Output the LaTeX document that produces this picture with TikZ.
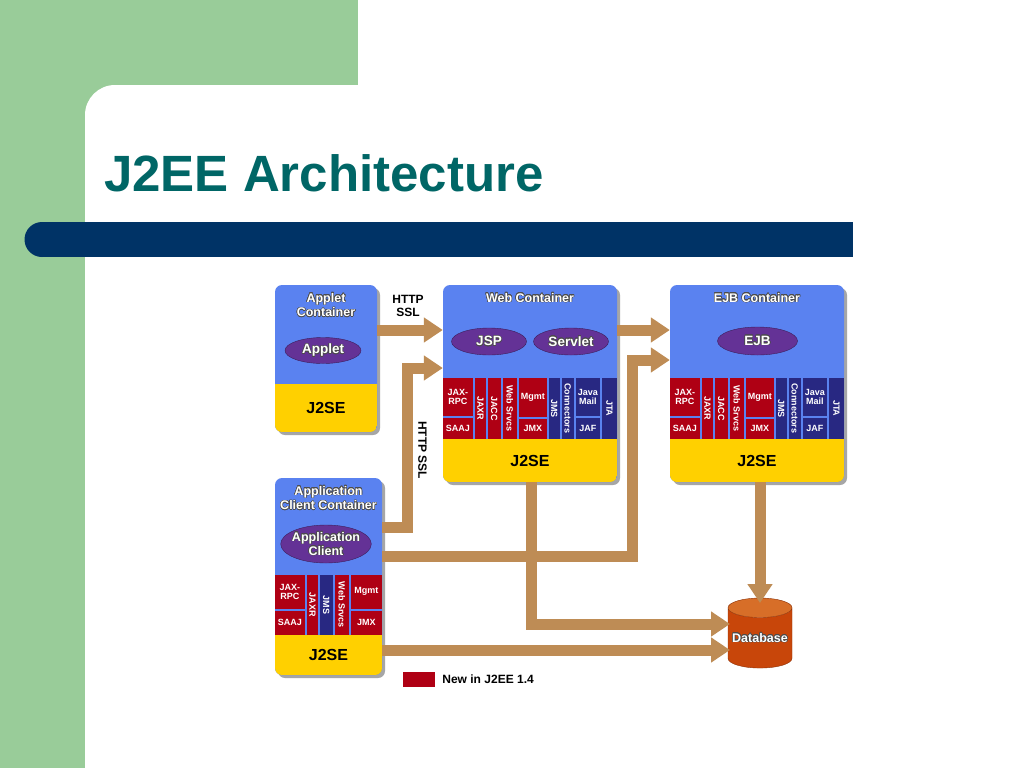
\documentclass[tikz,border=0pt]{standalone}
\usepackage{fontspec}
\setmainfont{Liberation Sans}
\usepackage{contour}
\contourlength{0.5pt}
\usetikzlibrary{positioning,shapes.geometric,arrows.meta,shadows}

\definecolor{slidegreen}{RGB}{153,204,153}
\definecolor{barblue}{RGB}{0,51,102}
\definecolor{titleteal}{RGB}{0,102,102}
\definecolor{contblue}{RGB}{90,130,240}
\definecolor{j2seyellow}{RGB}{255,208,0}
\definecolor{beanpurple}{RGB}{100,50,150}
\definecolor{newred}{RGB}{175,0,20}
\definecolor{apinavy}{RGB}{40,40,130}
\definecolor{pipetan}{RGB}{190,140,85}
\definecolor{dbred}{RGB}{200,70,10}
\definecolor{dborange}{RGB}{215,110,40}

\newcommand{\wt}[1]{\contour{black!70}{#1}}

\begin{document}
\begin{tikzpicture}[%
    x=1pt, y=-1pt,
    >={Triangle[width=24pt,length=19pt]},
    pipe/.style={draw=pipetan, line width=11pt, ->},
    box/.style={rectangle, rounded corners=7pt, fill=contblue, inner sep=0pt,
      drop shadow={shadow xshift=3pt, shadow yshift=-3pt, fill=black!35, opacity=1},
      path picture={\fill[j2seyellow, sharp corners]
        (path picture bounding box.south west)
        rectangle ([yshift=#1]path picture bounding box.south east);}},
    boxtitle/.style={text=white, align=center, inner sep=0pt,
      font=\fontsize{12.5}{14.5}\selectfont\bfseries},
    bean/.style={ellipse, fill=beanpurple, draw=beanpurple!60!black, inner sep=0pt,
      text=white, align=center, font=\fontsize{13.5}{15}\selectfont\bfseries},
    j2se/.style={font=\fontsize{16}{16}\selectfont\bfseries, inner sep=0pt},
    api/.style={rectangle, inner sep=0pt, text=white, align=center,
      font=\fontsize{9}{9.5}\selectfont\bfseries},
    proto/.style={align=center, inner sep=0pt,
      font=\fontsize{12}{12.5}\selectfont\bfseries},
  ]
    \useasboundingbox (0,0) rectangle (1024,768);
    \clip (0,0) rectangle (1024,768);

    % slide background
    \fill[slidegreen] (0,0) rectangle (358,768);
    \fill[white, rounded corners=30pt] (85,85) rectangle (1080,820);
    \fill[barblue] (42,222) rectangle (853,257);
    \fill[barblue] (42,239.5) circle[radius=17.5pt];
    \node[anchor=base west, text=titleteal, inner sep=0pt,
      font=\fontsize{51}{51}\selectfont\bfseries] (title) at (104,191) {J2EE Architecture};

    % containers
    \node[box=48pt, minimum width=102pt, minimum height=147pt] (applet) at (326,358.5) {};
    \node[box=43pt, minimum width=174pt, minimum height=197pt] (web) at (530,383.5) {};
    \node[box=43pt, minimum width=174pt, minimum height=197pt] (ejb) at (757,383.5) {};
    \node[box=40pt, minimum width=107pt, minimum height=197pt] (appclient) at (328.5,576.5) {};

    \node[boxtitle, below=8pt of applet.north] (applettitle) {\wt{Applet}\\\wt{Container}};
    \node[boxtitle, below=8pt of web.north] (webtitle) {\wt{Web Container}};
    \node[boxtitle, below=8pt of ejb.north] (ejbtitle) {\wt{EJB Container}};
    \node[boxtitle, below=8pt of appclient.north] (appclienttitle) {\wt{Application}\\\wt{Client Container}};

    \node[bean, minimum width=76pt, minimum height=26pt] (appletbean) at (323,350.5) {\wt{Applet}};
    \node[bean, minimum width=75pt, minimum height=27pt] (jsp) at (489,341.5) {\wt{JSP}};
    \node[bean, minimum width=75pt, minimum height=27pt] (servlet) at (571,341.5) {\wt{Servlet}};
    \node[bean, minimum width=80pt, minimum height=28pt] (ejbbean) at (757.5,341) {\wt{EJB}};
    \node[bean, inner xsep=-2pt, inner ysep=-1.5pt, minimum width=88pt, minimum height=38pt,
      font=\fontsize{12.5}{14}\selectfont\bfseries]
      (appbean) at (326,544) {\wt{Application}\\\wt{Client}};

    \node[j2se] (appletj2se) at ([yshift=24pt]applet.south) {J2SE};
    \node[j2se] (webj2se) at ([yshift=21pt]web.south) {J2SE};
    \node[j2se] (ejbj2se) at ([yshift=21pt]ejb.south) {J2SE};
    \node[j2se] (appclientj2se) at ([yshift=20pt]appclient.south) {J2SE};

    % service strips
    \foreach \ctr in {web,ejb}{
      \begin{scope}[shift={(\ctr.north west)}, yshift=-93pt]
        \foreach \n/\x/\y/\w/\h/\rot/\col/\lbl in {%
            jaxrpc/15/19/30/38/0/newred/{JAX-\\RPC},
            saaj/15/50.5/30/21/0/newred/SAAJ,
            jaxr/37.5/30.5/61/11/-90/newred/JAXR,
            jacc/51.5/30.5/61/13/-90/newred/JACC,
            websrvcs/67/30.5/61/14/-90/newred/Web Srvcs,
            mgmt/90/19.5/28/39/0/newred/Mgmt,
            jmx/90/51/28/20/0/newred/JMX,
            jms/111.5/30.5/61/11/-90/apinavy/JMS,
            connectors/125/30.5/61/12/-90/apinavy/Connectors,
            javamail/145/19/24/38/0/apinavy/{Java\\Mail},
            jaf/145/50.5/24/21/0/apinavy/JAF,
            jta/166.5/30.5/61/15/-90/apinavy/JTA}
          \node[api, fill=\col, rotate=\rot, minimum width=\w pt, minimum height=\h pt]
            (\ctr-\n) at (\x,\y) {\lbl};
      \end{scope}
    }
    \begin{scope}[shift={(appclient.north west)}, yshift=-97pt]
      \foreach \n/\x/\y/\w/\h/\rot/\col/\lbl in {%
          jaxrpc/15/17/30/34/0/newred/{JAX-\\RPC},
          saaj/15/48/30/24/0/newred/SAAJ,
          jaxr/37.5/30/60/11/-90/newred/JAXR,
          jms/51.5/30/60/13/-90/apinavy/JMS,
          websrvcs/67/30/60/14/-90/newred/Web Srvcs,
          mgmt/91.5/17/31/34/0/newred/Mgmt,
          jmx/91.5/48/31/24/0/newred/JMX}
        \node[api, fill=\col, rotate=\rot, minimum width=\w pt, minimum height=\h pt]
          (appclient-\n) at (\x,\y) {\lbl};
    \end{scope}

    % database
    \node[cylinder, shape border rotate=90, aspect=0.35, inner sep=0pt,
      minimum width=64pt, minimum height=70pt,
      cylinder uses custom fill, cylinder body fill=dbred, cylinder end fill=dborange,
      draw=dbred!70!black, text=white, font=\fontsize{12.5}{13}\selectfont\bfseries]
      (db) at (760,638) {\wt{Database}};
    \coordinate (dbwest) at ([xshift=-30pt]db.center);

    % connectors
    \draw[pipe] ([yshift=28.5pt]applet.east) -- ([yshift=53.5pt]web.west);
    \draw[pipe] ([yshift=49pt]appclient.east) -- ++(25.5,0) |- ([yshift=15.5pt]web.west);
    \draw[pipe] ([yshift=53.5pt]web.east) -- ([yshift=53.5pt]ejb.west);
    \draw[pipe] ([yshift=20.5pt]appclient.east) -- ++(250.5,0) |- ([yshift=23.5pt]ejb.west);
    \draw[pipe] ([xshift=1pt]web.south) |- ([yshift=14pt]dbwest);
    \draw[pipe] ([yshift=-73.5pt]appclient.east) -- ([yshift=-12pt]dbwest);
    \draw[pipe] ([xshift=3pt]ejb.south) -- ([yshift=35pt]db.center);

    \node[proto] (httpssl) at (408,306) {HTTP\\SSL};
    \node[proto, rotate=-90] (httpsslv) at (422.5,450) {HTTP SSL};

    % legend
    \node[fill=newred, minimum width=32pt, minimum height=15pt, inner sep=0pt] (legend) at (419,679) {};
    \node[right=7pt of legend, inner sep=0pt, font=\fontsize{12}{12}\selectfont\bfseries] (legendtext) {New in J2EE 1.4};
  \end{tikzpicture}
\end{document}
